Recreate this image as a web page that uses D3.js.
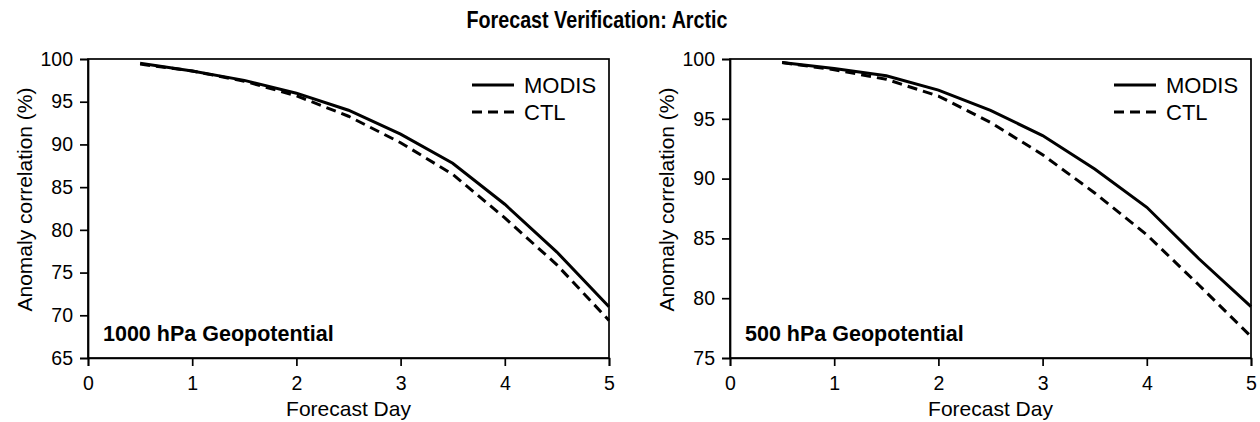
<!DOCTYPE html>
<html lang="en">
<head>
<meta charset="UTF-8">
<title>Forecast Verification: Arctic</title>
<script src="https://d3js.org/d3.v7.min.js"></script>
<style>
  body { margin: 0; background: white; }
  svg text { font-family: 'Liberation Sans', Arial, sans-serif; fill: #000; }
  .tick text { font-size: 19.5px; }
  .axisTitle { font-size: 21px; }
  .panelLabel { font-size: 21.5px; font-weight: bold; }
  .legendText { font-size: 22px; }
  .title { font-size: 24px; font-weight: bold; }
</style>
</head>
<body>
<svg width="1260" height="422"></svg>
<script>
const width = 1260, height = 422;

// forecast days
const days = [0.5, 1, 1.5, 2, 2.5, 3, 3.5, 4, 4.5, 5];
const xTicks = [0, 1, 2, 3, 4, 5];

// 1000 hPa geopotential
const modis1000 = [99.5, 98.6, 97.5, 96.0, 94.0, 91.2, 87.8, 83.0, 77.4, 71.0];
const ctl1000   = [99.4, 98.6, 97.4, 95.7, 93.3, 90.2, 86.5, 81.4, 75.9, 69.4];
const yTicks1000 = [65, 70, 75, 80, 85, 90, 95, 100];

// 500 hPa geopotential
const modis500 = [99.7, 99.2, 98.6, 97.4, 95.7, 93.6, 90.8, 87.6, 83.3, 79.3];
const ctl500   = [99.7, 99.1, 98.3, 96.9, 94.7, 92.0, 88.8, 85.3, 81.1, 76.8];
const yTicks500 = [75, 80, 85, 90, 95, 100];

const panels = [
  { label: "1000 hPa Geopotential", left: 88, right: 609, modis: modis1000, ctl: ctl1000, yTicks: yTicks1000 },
  { label: "500 hPa Geopotential", left: 730, right: 1251, modis: modis500, ctl: ctl500, yTicks: yTicks500 }
];

const plotTop = 59, plotBottom = 358;

const svg = d3.select("svg");

// the original title uses a condensed bold face
svg.append("text")
  .attr("class", "title")
  .attr("x", 597)
  .attr("y", 28)
  .attr("text-anchor", "middle")
  .attr("textLength", 261)
  .attr("lengthAdjust", "spacingAndGlyphs")
  .text("Forecast Verification: Arctic");

panels.forEach(p => {
  const g = svg.append("g");

  const x = d3.scaleLinear().domain([0, 5]).range([p.left, p.right]);
  const y = d3.scaleLinear().domain(d3.extent(p.yTicks)).range([plotBottom, plotTop]);

  // frame
  g.append("rect")
    .attr("x", p.left).attr("y", plotTop)
    .attr("width", p.right - p.left).attr("height", plotBottom - plotTop)
    .attr("fill", "none").attr("stroke", "#000").attr("stroke-width", 1.7);

  const xAxis = g.append("g")
    .attr("transform", `translate(0,${plotBottom})`)
    .call(d3.axisBottom(x).tickValues(xTicks).tickSize(8).tickPadding(10).tickFormat(d3.format("d")));
  const yAxis = g.append("g")
    .attr("transform", `translate(${p.left},0)`)
    .call(d3.axisLeft(y).tickValues(p.yTicks).tickSize(8).tickPadding(7).tickFormat(d3.format("d")));
  [xAxis, yAxis].forEach(a => {
    a.select(".domain").attr("stroke-width", 1.7);
    a.selectAll(".tick line").attr("stroke-width", 1.7);
    a.selectAll(".tick text").attr("font-family", null).attr("font-size", null);
  });

  g.append("text")
    .attr("class", "axisTitle")
    .attr("x", (p.left + p.right) / 2)
    .attr("y", 416)
    .attr("text-anchor", "middle")
    .text("Forecast Day");

  g.append("text")
    .attr("class", "axisTitle")
    .attr("transform", `translate(${p.left - 56},${(plotTop + plotBottom) / 2 - 9}) rotate(-90)`)
    .attr("text-anchor", "middle")
    .text("Anomaly correlation (%)");

  const line = d3.line()
    .x((d, i) => x(days[i]))
    .y(d => y(d));

  g.append("path")
    .attr("d", line(p.ctl))
    .attr("fill", "none").attr("stroke", "#000")
    .attr("stroke-width", 3)
    .attr("stroke-dasharray", "10,6");

  g.append("path")
    .attr("d", line(p.modis))
    .attr("fill", "none").attr("stroke", "#000")
    .attr("stroke-width", 3);

  g.append("text")
    .attr("class", "panelLabel")
    .attr("x", p.left + 15)
    .attr("y", 341)
    .text(p.label);

  // legend
  const lx = p.right - 137;
  const legendItems = [
    { name: "MODIS", dash: null, y: 85 },
    { name: "CTL", dash: "10,6", y: 112 }
  ];
  legendItems.forEach(item => {
    g.append("line")
      .attr("x1", lx).attr("x2", lx + 42)
      .attr("y1", item.y).attr("y2", item.y)
      .attr("stroke", "#000").attr("stroke-width", 3)
      .attr("stroke-dasharray", item.dash);
    g.append("text")
      .attr("class", "legendText")
      .attr("x", lx + 52)
      .attr("y", item.y + 8)
      .text(item.name);
  });
});
</script>
</body>
</html>
